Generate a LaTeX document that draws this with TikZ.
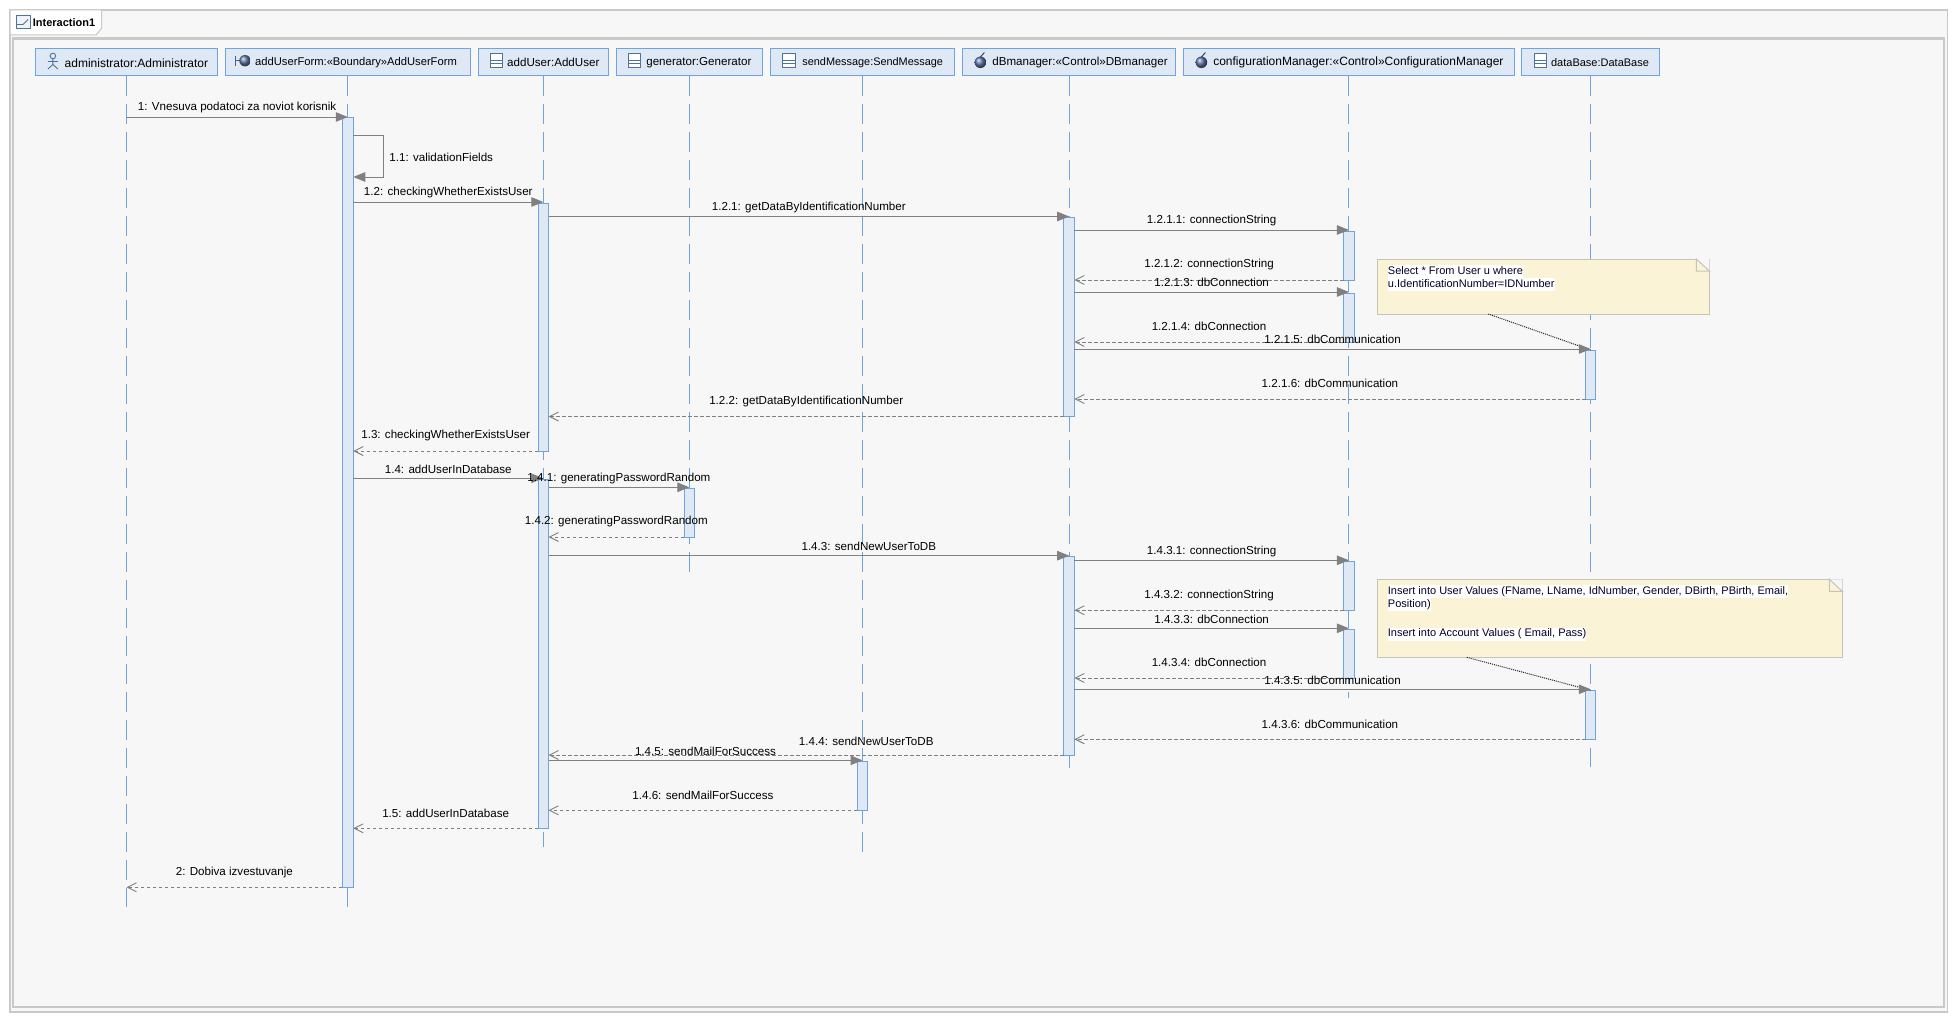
\documentclass[tikz,border=0pt]{standalone}
\usepackage{fontspec}
\setmainfont{Liberation Sans}
\usepackage{xcolor}
\usetikzlibrary{positioning, arrows.meta, calc}
\definecolor{framebg}{HTML}{F7F7F7}
\definecolor{framegray}{HTML}{C9C9C9}
\definecolor{headfill}{HTML}{DFE9F5}
\definecolor{umlblue}{HTML}{6FA5DC}
\definecolor{msggray}{HTML}{808080}
\definecolor{notefill}{HTML}{FAF3D5}
\definecolor{noteline}{HTML}{C6C3B8}
\definecolor{ballblue}{HTML}{5F78A8}
\setlength{\fboxsep}{0pt}
\newcommand{\whiteline}[1]{\colorbox{white}{\strut #1}}

\begin{document}
\begin{tikzpicture}[
        x=1pt, y=-1pt,
        every node/.style={font=\fontsize{11.6}{13}\selectfont},
        head/.style={draw=umlblue, line width=1pt, fill=headfill, rectangle, minimum height=27.4pt, inner sep=0pt, outer sep=0pt},
        headlabel/.style={anchor=west, inner sep=0pt, yshift=-0.8pt},
        lifeline/.style={draw=umlblue, line width=0.9pt, dash pattern=on 20pt off 8pt},
        act/.style={draw=umlblue, line width=1pt, fill=headfill, rectangle, anchor=north, minimum width=10.4pt, inner sep=0pt, outer sep=0pt},
        call/.style={draw=msggray, line width=0.95pt, -{Triangle[length=12pt, width=9.5pt, fill=msggray]}},
        return/.style={draw=msggray, line width=0.9pt, dash pattern=on 3.5pt off 2.5pt, -{Straight Barb[length=9pt, width=9pt, line width=0.9pt]}},
        calllabel/.style={midway, yshift=9.2pt, inner sep=0pt},
        retlabel/.style={midway, yshift=15.2pt, inner sep=0pt},
        note/.style={draw=noteline, line width=1pt, fill=notefill, rectangle, anchor=north west, inner sep=0pt, outer sep=0pt},
        notetext/.style={anchor=north west, align=left, inner sep=0pt, text=black!85!blue, font=\fontsize{11}{13}\selectfont},
        notelink/.style={draw=black!85, line width=1pt, densely dotted},
        classicon/.pic={
            \draw[umlblue!70!black, line width=1pt, fill=white] (0,-8.7) rectangle (12.6,5.3);
            \draw[umlblue!70!black, line width=1pt] (0,-1.3) -- (12.6,-1.3) (0,2) -- (12.6,2);
        },
        controlicon/.pic={
            \shade[ball color=ballblue] (6,0.3) circle (5.8);
            \draw[ballblue!60!black, line width=1pt] (6,-5) -- (10,-9.5);
        },
        boundaryicon/.pic={
            \draw[ballblue!80!black, line width=1pt] (0,-5) -- (0,5) (0,0) -- (5,0);
            \shade[ball color=ballblue] (10,0) circle (5.7);
        },
        actoricon/.pic={
            \draw[umlblue!70!black, line width=0.9pt] (5,-6) circle (2.8);
            \draw[umlblue!70!black, line width=0.9pt] (5,-3.2) -- (5,2.5) (0,-0.5) -- (10,-0.5) (0,7) -- (5,2.5) -- (10,7);
        }
    ]
    \useasboundingbox (0,0) rectangle (1958,1022);

    % Rahmen
    \draw[framegray, line width=1.4pt, fill=framebg] (10,10) rectangle (1947.5,1012);
    \draw[framegray, line width=2.4pt, fill=framebg] (13,38.5) rectangle (1944,1007);
    \draw[framegray, line width=1pt, fill=white] (10,10) -- (101.7,10) -- (101.7,28.3) -- (96,35) -- (10,35) -- cycle;
    \draw[umlblue!70!black, line width=1pt, fill=headfill!50!white] (16.3,16) rectangle (30.5,29);
    \draw[umlblue!70!black, line width=0.8pt] (16.3,24.5) -- (23,24.5) -- (28,19.5);
    \node[anchor=west, inner sep=0pt, font=\fontsize{11}{13}\selectfont\bfseries] (frametitle) at (32.7,23) {Interaction1};

    % Koepfe
    \node[head, minimum width=182pt] (admin) at (126.5,62) {};
    \node[head, minimum width=245.5pt, right=7.5pt of admin] (form) {};
    \node[head, minimum width=130.6pt, right=7.5pt of form] (user) {};
    \node[head, minimum width=146.6pt, right=7.5pt of user] (gen) {};
    \node[head, minimum width=184.7pt, right=7.5pt of gen] (mail) {};
    \node[head, minimum width=213.5pt, right=7.5pt of mail] (dbm) {};
    \node[head, minimum width=331pt, right=7.5pt of dbm] (conf) {};
    \node[head, minimum width=137.7pt, right=7.5pt of conf] (db) {};

    \node[headlabel, font=\fontsize{12}{13}\selectfont] (adminT) at ([xshift=29pt]admin.west) {administrator:Administrator};
    \node[headlabel, font=\fontsize{11.2}{13}\selectfont] (formT) at ([xshift=30pt]form.west) {addUserForm:«Boundary»AddUserForm};
    \node[headlabel] (userT) at ([xshift=29pt]user.west) {addUser:AddUser};
    \node[headlabel] (genT) at ([xshift=30pt]gen.west) {generator:Generator};
    \node[headlabel, font=\fontsize{10.9}{13}\selectfont] (mailT) at ([xshift=32pt]mail.west) {sendMessage:SendMessage};
    \node[headlabel] (dbmT) at ([xshift=29.7pt]dbm.west) {dBmanager:«Control»DBmanager};
    \node[headlabel, font=\fontsize{12}{13}\selectfont] (confT) at ([xshift=29.7pt]conf.west) {configurationManager:«Control»ConfigurationManager};
    \node[headlabel, font=\fontsize{11}{13}\selectfont] (dbT) at ([xshift=29pt]db.west) {dataBase:DataBase};

    \pic at ([xshift=12.4pt]admin.west) {actoricon};
    \pic at ([xshift=10pt,yshift=1.3pt]form.west) {boundaryicon};
    \pic at ([xshift=12.2pt]user.west) {classicon};
    \pic at ([xshift=12.2pt]gen.west) {classicon};
    \pic at ([xshift=12.2pt]mail.west) {classicon};
    \pic at ([xshift=12pt]dbm.west) {controlicon};
    \pic at ([xshift=12pt]conf.west) {controlicon};
    \pic at ([xshift=12.2pt]db.west) {classicon};

    % Lebenslinien
    \draw[lifeline] (admin.south) -- (admin.south |- 0,906.5);
    \draw[lifeline] (form.south) -- (form.south |- 0,906.5);
    \draw[lifeline] (user.south) -- (user.south |- 0,847);
    \draw[lifeline] (gen.south) -- (gen.south |- 0,571.5);
    \draw[lifeline] (mail.south) -- (mail.south |- 0,851.5);
    \draw[lifeline] (dbm.south) -- (dbm.south |- 0,767.5);
    \draw[lifeline] (conf.south) -- (conf.south |- 0,697.5);
    \draw[lifeline] (db.south) -- (db.south |- 0,767);

    % Aktivierungen
    \node[act, minimum width=11pt, minimum height=769.3pt] (formA) at (form.south |- 0,118) {};
    \node[act, minimum height=248pt] (userA1) at (user.south |- 0,203) {};
    \node[act, minimum height=349.3pt] (userA2) at (user.south |- 0,479) {};
    \node[act, minimum height=49pt] (genA) at (gen.south |- 0,488) {};
    \node[act, minimum height=49pt] (mailA) at (mail.south |- 0,761.3) {};
    \node[act, minimum height=199.5pt] (dbmA1) at (dbm.south |- 0,217) {};
    \node[act, minimum height=198.5pt] (dbmA2) at (dbm.south |- 0,556.5) {};
    \node[act, minimum height=49pt] (confA1) at (conf.south |- 0,231) {};
    \node[act, minimum height=49pt] (confA2) at (conf.south |- 0,293) {};
    \node[act, minimum height=49pt] (confA3) at (conf.south |- 0,561.3) {};
    \node[act, minimum height=49pt] (confA4) at (conf.south |- 0,629.3) {};
    \node[act, minimum height=49pt] (dbA1) at (db.south |- 0,350) {};
    \node[act, minimum height=49pt] (dbA2) at (db.south |- 0,690.3) {};

    % Notizen
    \node[note, minimum width=332pt, minimum height=55pt] (note1) at (1377.3,259) {};
    \fill[framebg] (note1.north east) -- ([xshift=-13pt]note1.north east) -- ([yshift=-12pt]note1.north east) -- cycle;
    \draw[noteline, line width=1pt] ([xshift=-13pt]note1.north east) -- ([yshift=-12pt]note1.north east) -- ([xshift=-13pt,yshift=-12pt]note1.north east) -- cycle;
    \node[notetext] (note1T) at ([xshift=10.4pt,yshift=-6pt]note1.north west) {\whiteline{Select * From User u where}\\\whiteline{u.IdentificationNumber=IDNumber}};
    \draw[notelink] ([xshift=111pt]note1.south west) -- (dbA1.north);

    \node[note, minimum width=465pt, minimum height=78pt] (note2) at (1377.3,579.3) {};
    \fill[framebg] (note2.north east) -- ([xshift=-13pt]note2.north east) -- ([yshift=-12pt]note2.north east) -- cycle;
    \draw[noteline, line width=1pt] ([xshift=-13pt]note2.north east) -- ([yshift=-12pt]note2.north east) -- ([xshift=-13pt,yshift=-12pt]note2.north east) -- cycle;
    \node[notetext] (note2T) at ([xshift=10.4pt,yshift=-5.5pt]note2.north west) {\whiteline{Insert into User Values (FName, LName, IdNumber, Gender, DBirth, PBirth, Email,}\\\whiteline{Position)}\\[3.5pt]\strut\\\whiteline{Insert into Account Values ( Email, Pass)}};
    \draw[notelink] ([xshift=89.5pt]note2.south west) -- (dbA2.north);

    % Nachrichten
    \draw[call] (admin.south |- 0,117) -- (form.south |- 0,117) node[calllabel] (m1) {1: Vnesuva podatoci za noviot korisnik};
    \draw[call] (formA.east |- 0,135) -- ++(30,0) -- ++(0,42) -- (formA.east |- 0,177);
    \node[anchor=west, inner sep=0pt] (m11) at ([xshift=36pt]formA.east |- 0,157.5) {1.1: validationFields};
    \draw[call] (formA.east |- 0,202) -- (user.south |- 0,202) node[calllabel] (m12) {1.2: checkingWhetherExistsUser};
    \draw[call] (userA1.east |- 0,216.5) -- (dbm.south |- 0,216.5) node[calllabel] (m121) {1.2.1: getDataByIdentificationNumber};
    \draw[call] (dbmA1.east |- 0,230) -- (conf.south |- 0,230) node[calllabel] (m1211) {1.2.1.1: connectionString};
    \draw[return] (confA1.west |- 0,280) -- (dbmA1.east |- 0,280) node[retlabel] (m1212) {1.2.1.2: connectionString};
    \draw[call] (dbmA1.east |- 0,292) -- (conf.south |- 0,292) node[calllabel] (m1213) {1.2.1.3: dbConnection};
    \draw[return] (confA2.west |- 0,342) -- (dbmA1.east |- 0,342) node[retlabel] (m1214) {1.2.1.4: dbConnection};
    \draw[call] (dbmA1.east |- 0,349) -- (db.south |- 0,349) node[calllabel] (m1215) {1.2.1.5: dbCommunication};
    \draw[return] (dbA1.west |- 0,399) -- (dbmA1.east |- 0,399) node[retlabel] (m1216) {1.2.1.6: dbCommunication};
    \draw[return] (dbmA1.west |- 0,416.5) -- (userA1.east |- 0,416.5) node[retlabel] (m122) {1.2.2: getDataByIdentificationNumber};
    \draw[return] (userA1.west |- 0,451) -- (formA.east |- 0,451) node[retlabel] (m13) {1.3: checkingWhetherExistsUser};
    \draw[call] (formA.east |- 0,478.3) -- (user.south |- 0,478.3) node[calllabel] (m14) {1.4: addUserInDatabase};
    \draw[call] (userA2.east |- 0,487.3) -- (gen.south |- 0,487.3) node[calllabel] (m141) {1.4.1: generatingPasswordRandom};
    \draw[return] (genA.west |- 0,537) -- (userA2.east |- 0,537) node[retlabel] (m142) {1.4.2: generatingPasswordRandom};
    \draw[call] (userA2.east |- 0,555.7) -- (dbm.south |- 0,555.7) node[calllabel, xshift=60pt] (m143) {1.4.3: sendNewUserToDB};
    \draw[call] (dbmA2.east |- 0,560.3) -- (conf.south |- 0,560.3) node[calllabel] (m1431) {1.4.3.1: connectionString};
    \draw[return] (confA3.west |- 0,610.3) -- (dbmA2.east |- 0,610.3) node[retlabel] (m1432) {1.4.3.2: connectionString};
    \draw[call] (dbmA2.east |- 0,628.3) -- (conf.south |- 0,628.3) node[calllabel] (m1433) {1.4.3.3: dbConnection};
    \draw[return] (confA4.west |- 0,678) -- (dbmA2.east |- 0,678) node[retlabel] (m1434) {1.4.3.4: dbConnection};
    \draw[call] (dbmA2.east |- 0,689.3) -- (db.south |- 0,689.3) node[calllabel] (m1435) {1.4.3.5: dbCommunication};
    \draw[return] (dbA2.west |- 0,739.3) -- (dbmA2.east |- 0,739.3) node[retlabel] (m1436) {1.4.3.6: dbCommunication};
    \draw[return] (dbmA2.west |- 0,755) -- (userA2.east |- 0,755) node[midway, yshift=13.8pt, xshift=60pt, inner sep=0pt] (m144) {1.4.4: sendNewUserToDB};
    \draw[call] (userA2.east |- 0,760.3) -- (mail.south |- 0,760.3) node[calllabel] (m145) {1.4.5: sendMailForSuccess};
    \draw[return] (mailA.west |- 0,810.3) -- (userA2.east |- 0,810.3) node[retlabel] (m146) {1.4.6: sendMailForSuccess};
    \draw[return] (userA2.west |- 0,828.3) -- (formA.east |- 0,828.3) node[retlabel] (m15) {1.5: addUserInDatabase};
    \draw[return] (formA.west |- 0,887.3) -- (admin.south |- 0,887.3) node[retlabel] (m2) {2: Dobiva izvestuvanje};
\end{tikzpicture}
\end{document}
